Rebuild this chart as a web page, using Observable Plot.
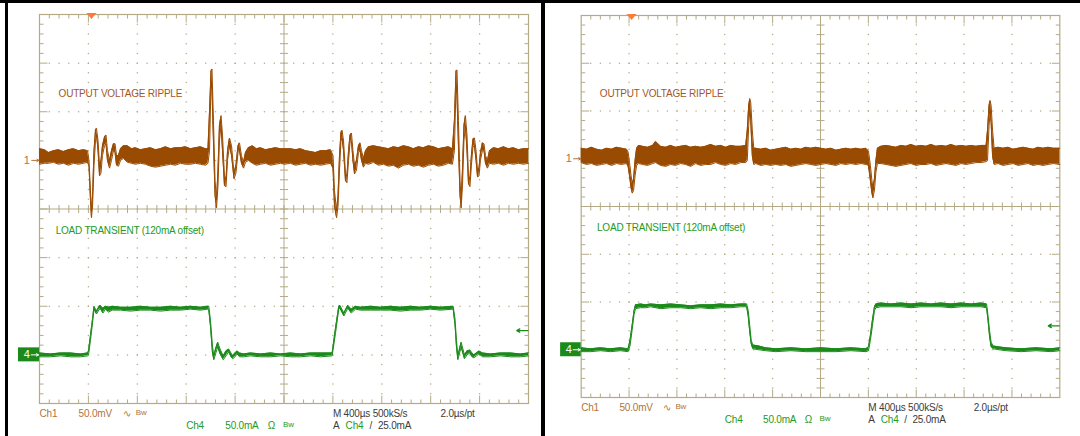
<!DOCTYPE html>
<html><head><meta charset="utf-8">
<script src="https://cdn.jsdelivr.net/npm/d3@7"></script>
<script src="https://cdn.jsdelivr.net/npm/@observablehq/plot@0.6"></script>
<style>
html,body{margin:0;padding:0;background:#fff;}
#wrap{position:relative;width:1080px;height:436px;overflow:hidden;background:#fff;}
#wrap svg{position:absolute;top:0;}
#wrap svg text{letter-spacing:-0.2px;}
.bar{position:absolute;background:#000;z-index:5;}
</style></head><body>
<div id="wrap"></div>
<script>
// ---- scope settings ----
const TIME_PER_DIV = 400;      // µs / div  (M 400µs)
const T_LEFT = -400;           // time at left graticule edge, µs
const CH1_MV_PER_DIV = 50;     // Ch1 50.0mV
const CH4_MA_PER_DIV = 50;     // Ch4 50.0mA
const CH1_POS = 1;             // Ch1 ground marker, div above centre
const CH4_POS = -3;            // Ch4 ground marker, div from centre
const TRIG_LEVEL_MA = 25;      // A Ch4 / 25.0mA
const trigTime = [25, 21];     // trigger-point marker, µs (left, right)

// ---- labels ----
const ch1Title = "OUTPUT VOLTAGE RIPPLE";
const ch4Title = "LOAD TRANSIENT (120mA offset)";
const ch1Readout = ["Ch1", "50.0mV", "∿"];
const ch4Readout = ["Ch4", "50.0mA", "Ω"];
const bwLabel = "Bw";
const acqReadout = ["M 400µs 500kS/s", "2.0µs/pt"];
const trigReadout = ["A", "Ch4", "/", "25.0mA"];
const ch1Marker = "1";
const ch4Marker = "4";

// ---- traces: [time µs, min, max]  (Ch1 in mV, Ch4 in mA) ----
const ch1Left = [
[-400,-4,12],[-359,-3,11],[-326,-3,8],[-285,-2,10],[-245,-4,11],[-204,-3,9],[-163,-5,11],[-122,-3,12],[-81,-4,10],[-40,-3,11],[-7,-2,10],
[5,-6,0],[17,-41,-31],[25,-59,-52],[34,-47,-36],[46,-5,10],[58,20,31],[66,27,33],[79,10,20],[91,-16,-5],[103,-13,0],[115,5,15],[132,15,24],[144,17,26],[156,0,10],[173,-8,0],[189,0,10],[205,10,17],[218,8,17],[230,-5,5],[246,-6,5],[263,0,12],[287,2,15],
[320,-2,15],[353,-3,12],[385,-4,13],[426,-3,11],[467,-4,12],[508,-6,13],[549,-7,11],[590,-6,12],[631,-5,14],[672,-4,12],[712,-5,13],[753,-3,13],[794,-4,14],[835,-4,12],[876,-3,13],[917,-4,14],[958,-5,12],[978,-3,12],
[991,10,51],[1003,82,92],[1011,72,94],[1023,20,41],[1036,-36,-21],[1048,-49,-41],[1060,-26,-10],[1072,20,36],[1085,36,46],[1097,10,26],[1113,-26,-16],[1126,-27,-19],[1138,0,10],[1154,15,23],[1171,5,15],[1191,-19,-13],[1207,-13,-5],[1224,8,15],[1236,10,18],[1252,-3,5],[1269,-8,-2],[1285,-2,8],[1309,0,13],
[1342,-3,15],[1375,-5,12],[1408,-4,13],[1449,-3,11],[1490,-5,12],[1531,-4,13],[1571,-3,12],[1604,-4,12],[1653,-3,12],[1694,-5,11],[1735,-4,12],[1776,-3,10],[1817,-5,9],[1858,-4,8],[1899,-5,10],[1940,-4,10],[1981,-3,11],
[2001,-8,5],[2013,-47,-31],[2030,-59,-52],[2042,-47,-36],[2054,-10,5],[2066,20,29],[2075,23,31],[2087,10,20],[2103,-21,-13],[2115,-23,-16],[2128,0,10],[2140,18,26],[2152,20,28],[2164,0,10],[2177,-14,-5],[2193,-10,0],[2209,8,15],[2222,10,18],[2234,0,10],[2250,-7,2],[2267,-3,10],
[2291,-4,14],[2332,-2,15],[2373,-5,14],[2414,-4,13],[2455,-6,12],[2495,-5,14],[2536,-8,13],[2577,-5,15],[2618,-4,14],[2659,-6,12],[2700,-5,14],[2741,-7,13],[2782,-5,15],[2823,-4,14],[2863,-6,12],[2904,-5,13],[2945,-3,14],[2978,-4,12],
[2994,10,41],[3007,77,92],[3015,67,93],[3027,15,41],[3040,-36,-21],[3049,-49,-41],[3060,-26,-10],[3072,20,36],[3084,36,46],[3097,10,26],[3109,-24,-16],[3121,-27,-19],[3133,-5,5],[3146,14,22],[3158,15,23],[3171,0,10],[3183,-17,-10],[3195,-16,-8],[3207,0,8],[3223,10,18],[3236,10,17],[3248,-3,5],[3264,-8,0],[3281,-3,10],
[3314,-4,13],[3355,-3,12],[3396,-5,14],[3436,-3,12],[3477,-4,13],[3518,-3,11],[3559,-4,12],[3600,-3,12]
];
const ch4Left = [
[-400,-2,2],[-310,-2,1],[-228,-1,2],[-146,-2,2],[-65,-2,1],[-7,-1,2],[1,0,4],[17,15,20],[34,33,37],[46,47,50],[66,42,45],[95,48,51],[119,43,48],[140,47,50],[164,44,49],[197,46,50],
[263,46,49],[344,45,49],[426,46,50],[508,46,49],[590,45,49],[672,46,50],[753,46,49],[835,47,50],[917,46,49],[974,47,50],[985,46,50],
[999,29,35],[1015,2,9],[1026,-5,-1],[1040,1,6],[1058,8,13],[1077,1,6],[1103,-5,-1],[1126,-1,4],[1148,3,6],[1166,-2,2],[1181,-4,-1],[1199,-2,2],[1217,1,4],[1236,-2,2],[1269,-2,1],
[1326,-1,2],[1408,-2,1],[1490,-2,2],[1571,-1,1],[1653,-2,2],[1735,-2,1],[1817,-1,2],[1899,-2,2],[1994,-1,2],
[2021,22,27],[2048,47,50],[2057,48,51],[2090,40,43],[2122,48,51],[2150,43,47],[2185,47,50],[2226,46,49],[2308,46,50],[2389,46,49],[2471,46,50],[2553,45,49],[2635,46,50],[2716,46,49],[2798,47,50],[2880,46,49],[2984,47,50],
[2999,31,37],[3011,8,15],[3022,-5,-1],[3049,8,13],[3076,-4,0],[3097,0,4],[3120,2,5],[3138,-2,2],[3153,-3,0],[3175,-1,2],[3195,1,4],[3224,-2,2],
[3289,-2,1],[3371,-1,2],[3453,-2,2],[3534,-2,1],[3600,-1,2]
];
const ch1Right = [
[-400,-4,11],[-356,-6,10],[-314,-5,12],[-272,-7,10],[-230,-6,9],[-188,-5,11],[-146,-7,10],[-105,-5,12],[-63,-6,11],[-21,-5,10],
[-8,-8,7],[4,-18,-4],[17,-31,-18],[27,-36,-26],[38,-33,-21],[50,-18,-2],[63,-7,11],
[80,-5,14],[113,-6,13],[155,-7,12],[197,-5,14],[222,-4,18],[264,-7,13],[306,-8,12],[347,-6,14],[389,-7,12],[431,-5,13],[473,-6,14],[515,-8,12],[557,-5,13],[598,-7,12],[640,-6,13],[682,-6,15],[724,-4,13],[766,-6,14],[808,-7,12],[850,-5,14],[891,-6,13],[933,-4,13],[975,-4,14],
[988,-2,30],[1000,35,56],[1009,51,63],[1017,40,59],[1030,3,30],[1042,-6,11],
[1059,-5,11],[1101,-7,10],[1142,-6,11],[1184,-7,9],[1226,-6,10],[1268,-7,11],[1310,-6,12],[1352,-8,10],[1394,-7,11],[1435,-6,10],[1477,-5,12],[1519,-6,11],[1561,-7,12],[1603,-6,11],[1645,-5,10],[1687,-6,11],[1729,-7,9],[1770,-5,10],[1812,-6,11],[1854,-5,10],[1896,-6,11],[1938,-5,10],[1980,-6,11],
[2001,-7,8],[2017,-23,-7],[2030,-36,-23],[2038,-41,-30],[2051,-33,-21],[2063,-14,-2],[2076,-5,11],
[2105,-5,13],[2147,-6,14],[2189,-7,13],[2231,-8,12],[2272,-7,14],[2314,-6,13],[2356,-5,15],[2398,-7,13],[2440,-6,14],[2482,-6,13],[2524,-5,15],[2566,-7,13],[2607,-6,14],[2649,-5,13],[2691,-6,15],[2733,-7,13],[2775,-5,14],[2817,-6,13],[2859,-5,14],[2900,-4,13],[2942,-4,14],[2984,-3,14],
[2996,-2,30],[3009,35,56],[3017,48,61],[3026,38,56],[3038,3,30],[3051,-6,11],
[3084,-5,12],[3126,-7,11],[3168,-6,12],[3210,-5,10],[3252,-7,11],[3293,-6,12],[3335,-5,11],[3377,-7,10],[3419,-6,12],[3461,-7,11],[3503,-6,12],[3545,-5,11],[3600,-6,11]
];
const ch4Right = [
[-400,-2,2],[-323,-2,1],[-239,-1,2],[-155,-2,1],[-71,-1,2],[-8,-2,1],[8,4,10],[25,20,25],[42,37,41],[54,43,47],
[96,44,48],[138,44,47],[180,45,48],[264,43,47],[347,44,48],[431,44,47],[515,43,46],[598,44,47],[682,43,47],[766,44,48],[850,44,47],[933,45,48],[983,45,48],
[996,35,41],[1009,18,25],[1021,6,10],[1034,1,5],[1084,0,4],[1142,-1,2],[1226,-2,1],[1352,-1,2],[1477,-2,1],[1603,-2,2],[1729,-2,1],[1854,-1,2],[1980,-2,1],
[2001,-1,3],[2017,10,15],[2034,25,31],[2051,41,45],[2063,44,48],[2105,45,49],[2189,45,48],[2272,45,49],[2356,44,48],[2440,45,49],[2524,45,48],[2607,45,49],[2691,44,48],[2775,45,49],[2859,45,48],[2942,45,49],[2988,44,48],
[3000,31,36],[3013,14,20],[3026,3,8],[3043,1,4],[3093,0,3],[3152,-1,2],[3277,-2,1],[3403,-1,2],[3528,-2,1],[3600,-1,2]
];

// ---- styling ----
const GRID = "#b4aa86";
const CH1_COLOR = "#9a4b02";
const CH1_TEXT = "#a3561f";
const CH1_READOUT = "#b0733c";
const CH4_COLOR = "#1b8a1b";
const CH4_TEXT = "#239a23";
const GRAY = "#3c3c3c";
const TRIG_COLOR = "#ff7a3a";
const FONT = "'Liberation Sans', Arial, sans-serif";

function makePanel(p) {
  const pxX = (p.width - p.ml - p.mr) / 10, pxY = (p.height - p.mt - p.mb) / 8;
  const xu = px => px * TIME_PER_DIV / pxX;   // px -> µs
  const yu = px => px / pxY;                  // px -> div
  const tx = d => T_LEFT + d * TIME_PER_DIV;  // div -> µs
  const T_RIGHT = tx(10), T_MID = tx(5);
  const v1 = v => CH1_POS + v / CH1_MV_PER_DIV;
  const v4 = v => CH4_POS + v / CH4_MA_PER_DIV;

  // graticule
  const majorT = d3.range(1, 10).filter(k => k !== 5).map(tx);
  const majorY = d3.range(-3, 4).filter(k => k !== 0);
  const minorT = d3.range(1, 50).map(k => tx(k / 5));
  const minorY = d3.range(1, 40).map(k => -4 + k / 5);
  const dots = [
    ...majorT.flatMap(t => minorY.map(y => [t, y])),
    ...majorY.flatMap(y => minorT.map(t => [t, y]))
  ];
  const ticks = [];
  d3.range(1, 50).forEach(k => {
    const t = tx(k / 5), L = k % 5 === 0 ? 8 : 4;
    ticks.push([t, 4, t, 4 - yu(L)], [t, -4, t, -4 + yu(L)], [t, -yu(4), t, yu(4)]);
  });
  d3.range(1, 40).forEach(k => {
    const y = -4 + k / 5, L = k % 5 === 0 ? 8 : 4;
    ticks.push([T_LEFT, y, T_LEFT + xu(L), y], [T_RIGHT, y, T_RIGHT - xu(L), y], [T_MID - xu(4), y, T_MID + xu(4), y]);
  });

  const band = (data, conv, color) => [
    Plot.areaY(data, {x: d => d[0], y1: d => conv(d[1]), y2: d => conv(d[2]), fill: color}),
    Plot.lineY(data, {x: d => d[0], y: d => conv(d[1]), stroke: color, strokeWidth: 1}),
    Plot.lineY(data, {x: d => d[0], y: d => conv(d[2]), stroke: color, strokeWidth: 1})
  ];

  const row1 = -4.215, row2 = -4.465;
  const txt = (arr, xs, y, fill, extra = {}) => Plot.text(arr.map((s, i) => ({s, x: tx(xs[i])})),
    {x: "x", y: () => y, text: "s", fill: Array.isArray(fill) ? (d, i) => fill[i] : fill, textAnchor: "start", fontSize: 10, ...extra});

  const trigSymbol = {draw(ctx) { ctx.moveTo(-5, -3); ctx.lineTo(5, -3); ctx.lineTo(0, 3); ctx.closePath(); }};

  return Plot.plot({
    width: p.width, height: p.height,
    marginLeft: p.ml, marginRight: p.mr, marginTop: p.mt, marginBottom: p.mb,
    x: {domain: [T_LEFT, T_RIGHT], axis: null},
    y: {domain: [-4, 4], axis: null},
    style: {fontFamily: FONT, fontSize: "10px", background: "white", overflow: "visible"},
    marks: [
      Plot.dot(dots, {x: d => d[0], y: d => d[1], r: 0.75, fill: GRID, stroke: null}),
      Plot.ruleX([T_MID], {stroke: GRID, strokeWidth: 1}),
      Plot.ruleY([0], {stroke: GRID, strokeWidth: 1}),
      Plot.link(ticks, {x1: d => d[0], y1: d => d[1], x2: d => d[2], y2: d => d[3], stroke: GRID, strokeWidth: 1}),
      Plot.frame({stroke: GRID, strokeWidth: 1.2}),
      // traces
      ...band(p.ch4, v4, CH4_COLOR),
      ...band(p.ch1, v1, CH1_COLOR),
      // titles
      Plot.text([ch1Title], {x: () => tx(0.39), y: () => 2.37, text: d => d, fill: CH1_TEXT, textAnchor: "start", fontSize: 10}),
      Plot.text([ch4Title], {x: () => tx(0.33), y: () => -0.44, text: d => d, fill: CH4_TEXT, textAnchor: "start", fontSize: 10}),
      // readouts
      txt(ch1Readout, [0, 0.8, 1.7], row1, CH1_READOUT),
      txt([bwLabel], [1.97], row1, CH1_READOUT, {fontSize: 8, dy: -1.5}),
      txt(acqReadout, [6.0, 8.2], row1, GRAY),
      txt(ch4Readout, [3.0, 3.8, 4.67], row2, CH4_TEXT),
      txt([bwLabel], [4.98], row2, CH4_TEXT, {fontSize: 8, dy: -1.5}),
      txt(trigReadout, [6.0, 6.26, 6.75, 6.92], row2, [GRAY, CH4_TEXT, GRAY, GRAY]),
      // channel markers
      Plot.text([ch1Marker], {x: () => tx(-0.26), y: () => v1(0), text: d => d, fill: CH1_READOUT, fontSize: 11}),
      Plot.arrow([0], {x1: () => tx(-0.16), x2: () => tx(-0.01), y1: () => v1(0), y2: () => v1(0), stroke: CH1_READOUT, headLength: 4, strokeWidth: 1}),
      Plot.rect([0], {x1: () => tx(-0.43), x2: () => tx(0), y1: () => v4(0) - yu(7), y2: () => v4(0) + yu(7), fill: CH4_COLOR}),
      Plot.text([ch4Marker], {x: () => tx(-0.26), y: () => v4(0), text: d => d, fill: "white", fontSize: 11}),
      Plot.arrow([0], {x1: () => tx(-0.17), x2: () => tx(-0.02), y1: () => v4(0), y2: () => v4(0), stroke: "white", headLength: 4, strokeWidth: 1}),
      // trigger level and position
      Plot.arrow([TRIG_LEVEL_MA], {x1: () => tx(9.99), x2: () => tx(9.76), y1: d => v4(d), y2: d => v4(d), stroke: CH4_COLOR, headLength: 4, strokeWidth: 1.3}),
      Plot.dot([p.trig], {x: d => d, y: () => 4, dy: 1.5, symbol: trigSymbol, fill: TRIG_COLOR, stroke: null})
    ]
  });
}

const wrap = document.getElementById("wrap");
const left = makePanel({ch1: ch1Left, ch4: ch4Left, trig: trigTime[0], width: 540, height: 436, ml: 39, mr: 12, mt: 14, mb: 33});
left.style.left = "0px";
wrap.appendChild(left);
const right = makePanel({ch1: ch1Right, ch4: ch4Right, trig: trigTime[1], width: 540, height: 436, ml: 40.7, mr: 20.7, mt: 15, mb: 39});
right.style.left = "540px";
wrap.appendChild(right);

// screen bezels
[[0, 0, 1080, 3], [5, 0, 2.5, 436], [541, 0, 4, 436]].forEach(([x, y, w, h]) => {
  const b = document.createElement("div");
  b.className = "bar";
  Object.assign(b.style, {left: x + "px", top: y + "px", width: w + "px", height: h + "px"});
  wrap.appendChild(b);
});
</script></body></html>
